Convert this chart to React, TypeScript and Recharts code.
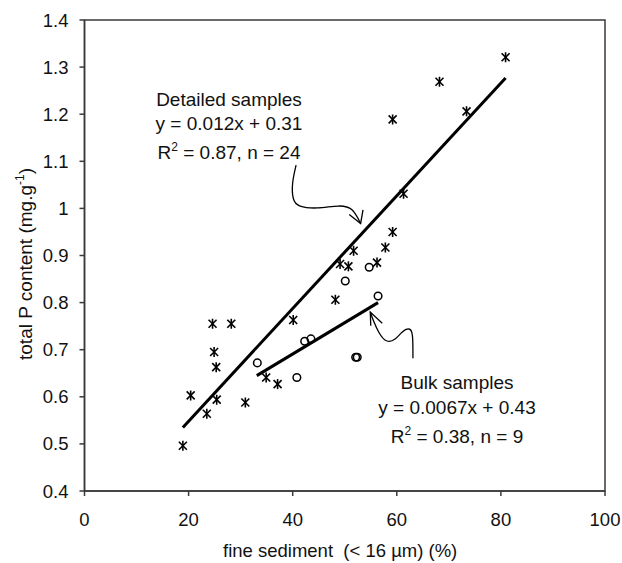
import { ComposedChart, Scatter, Line, XAxis, YAxis, ReferenceArea } from "recharts"

// detailed samples (asterisks)
const detailedX = [80.9, 68.2, 73.4, 59.2, 61.3, 59.2, 57.8, 56.2, 51.7, 49.1, 50.7, 48.2, 40.1, 24.6, 28.2, 24.9, 25.3, 34.9, 37.1, 20.4, 25.4, 30.9, 23.5, 18.9]
const detailedY = [1.321, 1.269, 1.206, 1.189, 1.031, 0.95, 0.917, 0.885, 0.91, 0.882, 0.877, 0.806, 0.763, 0.755, 0.755, 0.695, 0.663, 0.641, 0.627, 0.603, 0.594, 0.588, 0.564, 0.496]

// bulk samples (circles)
const bulkX = [54.7, 50.1, 56.4, 42.3, 43.5, 33.2, 40.8, 52.1, 52.4]
const bulkY = [0.875, 0.846, 0.814, 0.718, 0.723, 0.672, 0.641, 0.684, 0.684]

// fitted lines
const detailedFit = [
  { x: 18.9, y: 0.535 },
  { x: 80.9, y: 1.277 },
]
const bulkFit = [
  { x: 33.1, y: 0.645 },
  { x: 56.4, y: 0.8 },
]

// hand drawn arrows
const detailedArrow = [
  { x: 40.65, y: 1.092 },
  { x: 39.99, y: 1.054 },
  { x: 40.12, y: 1.021 },
  { x: 41.45, y: 1.005 },
  { x: 44.76, y: 1.001 },
  { x: 48.74, y: 1.005 },
  { x: 51.39, y: 0.997 },
  { x: 53.05, y: 0.968 },
]
const detailedHead = [
  { x: 50.86, y: 0.987 },
  { x: 53.05, y: 0.968 },
  { x: 53.51, y: 0.997 },
]
const bulkArrow = [
  { x: 63.1, y: 0.682 },
  { x: 63.0, y: 0.73 },
  { x: 62.3, y: 0.744 },
  { x: 61.0, y: 0.737 },
  { x: 59.6, y: 0.722 },
  { x: 58.0, y: 0.719 },
  { x: 56.6, y: 0.736 },
  { x: 55.5, y: 0.762 },
  { x: 54.9, y: 0.78 },
]
const bulkHead = [
  { x: 57.2, y: 0.756 },
  { x: 54.9, y: 0.78 },
  { x: 55.0, y: 0.751 },
]

const xTicks = [0, 20, 40, 60, 80, 100]
const yTicks = [0.4, 0.5, 0.6, 0.7, 0.8, 0.9, 1, 1.1, 1.2, 1.3, 1.4]

const detailed = detailedX.map((x, i) => ({ x, y: detailedY[i] }))
const bulk = bulkX.map((x, i) => ({ x, y: bulkY[i] }))

const font = "'Liberation Sans', Arial, sans-serif"
const axisColor = "#3a3a3a"

function Asterisk(props: any) {
  const { cx, cy } = props
  const r = 4
  return (
    <g stroke="#000" strokeWidth={1.6}>
      <line x1={cx - r} y1={cy - r} x2={cx + r} y2={cy + r} />
      <line x1={cx - r} y1={cy + r} x2={cx + r} y2={cy - r} />
      <line x1={cx} y1={cy - 5} x2={cx} y2={cy + 5} />
    </g>
  )
}

function Ring(props: any) {
  const { cx, cy } = props
  return <circle cx={cx} cy={cy} r={3.8} fill="none" stroke="#000" strokeWidth={1.5} />
}

export default function App() {
  const txt = { fontFamily: font, fontSize: 19, fill: "#111" }
  return (
    <div style={{ position: "absolute", left: 0, top: 0, width: 622, height: 563, background: "#fff" }}>
      <ComposedChart width={622} height={563} margin={{ top: 20, right: 17, bottom: 0, left: 0 }}>
        <XAxis
          type="number"
          dataKey="x"
          domain={[0, 100]}
          ticks={xTicks}
          height={72}
          tickSize={5}
          tickMargin={17}
          stroke={axisColor}
          strokeWidth={1.5}
          tick={{ fill: "#111", fontSize: 18.5, fontFamily: font }}
          allowDataOverflow
        />
        <YAxis
          type="number"
          dataKey="y"
          domain={[0.4, 1.4]}
          ticks={yTicks}
          width={84.5}
          tickSize={5}
          tickMargin={11}
          stroke={axisColor}
          strokeWidth={1.5}
          tickFormatter={(v: number) => String(Number(v.toFixed(1)))}
          tick={{ fill: "#111", fontSize: 18.5, fontFamily: font }}
          allowDataOverflow
        />
        <ReferenceArea x1={0} x2={100} y1={0.4} y2={1.4} fill="none" stroke={axisColor} strokeWidth={1.5} />
        <Line data={detailedFit} dataKey="y" type="linear" stroke="#000" strokeWidth={3} dot={false} activeDot={false} isAnimationActive={false} />
        <Line data={bulkFit} dataKey="y" type="linear" stroke="#000" strokeWidth={3} dot={false} activeDot={false} isAnimationActive={false} />
        <Line data={detailedArrow} dataKey="y" type="natural" stroke="#000" strokeWidth={1.3} dot={false} activeDot={false} isAnimationActive={false} />
        <Line data={detailedHead} dataKey="y" type="linear" stroke="#000" strokeWidth={1.3} dot={false} activeDot={false} isAnimationActive={false} />
        <Line data={bulkArrow} dataKey="y" type="natural" stroke="#000" strokeWidth={1.3} dot={false} activeDot={false} isAnimationActive={false} />
        <Line data={bulkHead} dataKey="y" type="linear" stroke="#000" strokeWidth={1.3} dot={false} activeDot={false} isAnimationActive={false} />
        <Scatter data={detailed} shape={<Asterisk />} isAnimationActive={false} />
        <Scatter data={bulk} shape={<Ring />} isAnimationActive={false} />
      </ComposedChart>

      {/* annotations and axis titles */}
      <svg width={622} height={563} style={{ position: "absolute", left: 0, top: 0, pointerEvents: "none" }}>
        <g textAnchor="middle" style={txt as any}>
          <text x={229} y={106}>Detailed samples</text>
          <text x={229} y={130}>y = 0.012x + 0.31</text>
          <text x={229} y={158.5}>
            R<tspan fontSize={12} dy={-8}>2</tspan>
            <tspan dy={8}> = 0.87, n = 24</tspan>
          </text>
          <text x={457} y={389}>Bulk samples</text>
          <text x={457} y={414}>y = 0.0067x + 0.43</text>
          <text x={457} y={443}>
            R<tspan fontSize={12} dy={-8}>2</tspan>
            <tspan dy={8}> = 0.38, n = 9</tspan>
          </text>
        </g>
        <text x={223} y={556.7} style={{ fontFamily: font, fontSize: 18.5, fill: "#111", whiteSpace: "pre" }}>
          fine sediment  (&lt; 16 µm) (%)
        </text>
        <text
          transform="translate(32, 264) rotate(-90)"
          textAnchor="middle"
          style={{ fontFamily: font, fontSize: 19, fill: "#111" }}
        >
          total P content (mg.g<tspan fontSize={12} dy={-8}>-1</tspan>
          <tspan dy={8}>)</tspan>
        </text>
      </svg>
    </div>
  )
}
